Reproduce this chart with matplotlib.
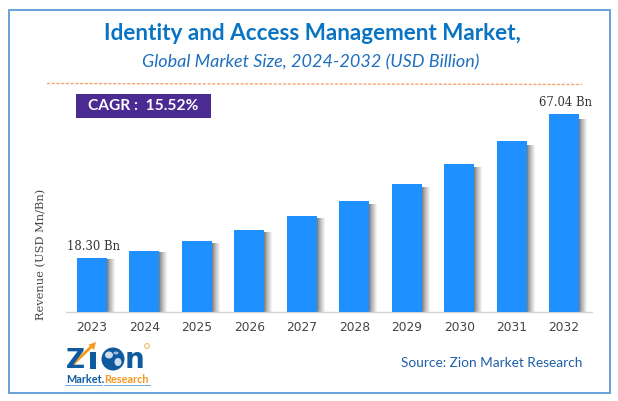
import matplotlib
matplotlib.use("Agg")
import matplotlib.pyplot as plt
from matplotlib.patches import Rectangle, Polygon, Circle, Ellipse

years = ["2023", "2024", "2025", "2026", "2027", "2028", "2029", "2030", "2031", "2032"]
revenue = [18.30, 20.8, 24.1, 27.9, 32.5, 37.6, 43.4, 50.2, 58.0, 67.04]
first_label = "18.30 Bn"
last_label = "67.04 Bn"
title = "Identity and Access Management Market,"
subtitle = "Global Market Size, 2024-2032 (USD Billion)"
cagr = "CAGR :  15.52%"
ylabel = "Revenue (USD Mn/Bn)"
source = "Source: Zion Market Research"

W, H = 618, 401
fig = plt.figure(figsize=(W / 100, H / 100), dpi=100, facecolor="white")

# pixel-coordinate overlay
bg = fig.add_axes([0, 0, 1, 1], zorder=0)
bg.set_xlim(0, W); bg.set_ylim(H, 0); bg.axis("off")
bg.add_patch(Rectangle((8.5, 9.5), 601.5, 383.5, fill=False, ec="#5B9BD5", lw=1.3))
bg.text(312, 34, title, ha="center", va="center", family="Lato", weight="bold", fontsize=16.2, color="#0A74C4")
bg.text(310.5, 62, subtitle, ha="center", va="center", family="Lato", style="italic", fontsize=13, color="#1F6FBF")
bg.plot([47, 582], [83.5, 84.5], ls=(0, (2.2, 1.2)), color="#F4A46E", lw=1.0)
bg.add_patch(Rectangle((76, 94), 135, 24, fc="#4B2A91", ec="none"))
bg.text(143, 106.5, cagr, ha="center", va="center", family="Lato", weight="bold", fontsize=11.2, color="white")
bg.text(491.5, 363, source, ha="center", va="center", family="Lato", fontsize=9.8, color="#1F5FA8")

# chart axes: baseline at y=312
ax = fig.add_axes([66 / W, 1 - 312 / H, (592 - 66) / W, (312 - 100) / H], zorder=1)
ax.patch.set_alpha(0)
x = list(range(len(years)))
step = 52.45
ax.set_xlim(-(92 - 66) / step, (592 - 92) / step)
ax.set_ylim(0, 212 / 2.953)
bar_w = 30 / step
# soft shadow to the right of each bar
for k in range(9):
    off = (k + 0.5) / step
    ax.bar([i + bar_w / 2 + off for i in x], [v * 0.975 for v in revenue], width=1.05 / step,
           color=str(0.5 + 0.5 * (k / 8) ** 0.8), lw=0, zorder=2)
ax.bar(x, revenue, width=bar_w, color="#1E90FF", lw=0, zorder=3)
for s in ["top", "right", "left"]:
    ax.spines[s].set_visible(False)
ax.spines["bottom"].set_color("#D0D3D8")
ax.spines["bottom"].set_linewidth(1.0)
ax.set_yticks([])
ax.set_xticks(x)
ax.set_xticklabels(years, family="DejaVu Sans", fontsize=8.8, color="#444444")
ax.tick_params(axis="x", length=0, pad=6.5)
ax.annotate(first_label, (x[0], revenue[0]), xytext=(1, 3.5), textcoords="offset points", ha="center", va="bottom",
            family="DejaVu Serif", fontsize=8.4, color="#333333")
ax.annotate(last_label, (x[-1], revenue[-1]), xytext=(1, 3.5), textcoords="offset points", ha="center", va="bottom",
            family="DejaVu Serif", fontsize=8.4, color="#333333")
bg.text(41, 254, ylabel, rotation=90, ha="center", va="center", family="DejaVu Serif", fontsize=8.2, color="#444444")

# logo
top = fig.add_axes([0, 0, 1, 1], zorder=2)
top.set_xlim(0, W); top.set_ylim(H, 0); top.axis("off")
navy = "#0F5A9E"
top.text(66, 368, "Z", family="DejaVu Sans", weight="bold", fontsize=19, color=navy, ha="left", va="baseline")
top.add_patch(Polygon([[67, 368], [90, 346], [88, 345], [96, 342], [94, 350], [92, 348], [71, 368]], fc="#F39A1E", ec="none"))
top.add_patch(Rectangle((90, 352), 6, 17, fc=navy, ec="none"))
top.add_patch(Circle((113, 359), 11.5, fc=navy, ec="none"))
top.add_patch(Ellipse((109, 355), 8, 7, fc="white", ec="none", alpha=0.8))
top.add_patch(Ellipse((118, 362), 7, 8, fc="white", ec="none", alpha=0.8))
top.add_patch(Ellipse((116, 353), 5, 3, fc="white", ec="none", alpha=0.6))
top.text(125, 368, "n", family="DejaVu Sans", weight="bold", fontsize=20, color=navy, ha="left", va="baseline")
top.add_patch(Circle((147, 346), 2.4, fc="none", ec="#F4B26A", lw=0.7))
top.text(66, 383, "Market.", family="Lato", weight="bold", fontsize=7.8, color=navy, ha="left", va="baseline")
top.text(104, 383, "Research", family="Lato", weight="bold", fontsize=7.8, color="#F39A1E", ha="left", va="baseline")
top.plot([65, 102], [384.5, 384.5], color="#5B9BD5", lw=0.6)
top.plot([104, 150], [384.5, 384.5], color="#5B9BD5", lw=0.6)

fig.savefig("out.png", dpi=100)
